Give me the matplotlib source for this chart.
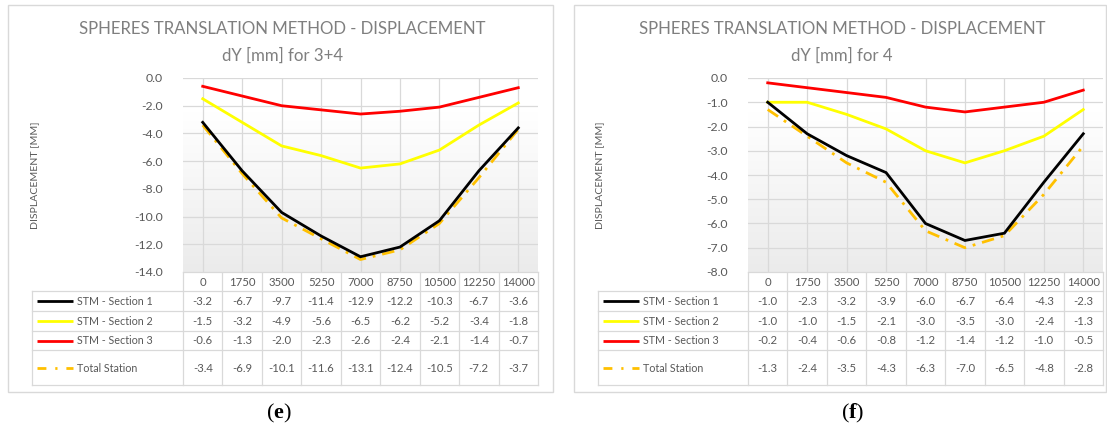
import numpy as np
import matplotlib
matplotlib.use("Agg")
import matplotlib.pyplot as plt
from matplotlib.transforms import blended_transform_factory
from matplotlib.colors import LinearSegmentedColormap

# ---------------- data ----------------
categories = ["0", "1750", "3500", "5250", "7000", "8750", "10500", "12250", "14000"]
series_names = ["STM - Section 1", "STM - Section 2", "STM - Section 3", "Total Station"]

e_sec1 = [-3.2, -6.7, -9.7, -11.4, -12.9, -12.2, -10.3, -6.7, -3.6]
e_sec2 = [-1.5, -3.2, -4.9, -5.6, -6.5, -6.2, -5.2, -3.4, -1.8]
e_sec3 = [-0.6, -1.3, -2.0, -2.3, -2.6, -2.4, -2.1, -1.4, -0.7]
e_total = [-3.4, -6.9, -10.1, -11.6, -13.1, -12.4, -10.5, -7.2, -3.7]

f_sec1 = [-1.0, -2.3, -3.2, -3.9, -6.0, -6.7, -6.4, -4.3, -2.3]
f_sec2 = [-1.0, -1.0, -1.5, -2.1, -3.0, -3.5, -3.0, -2.4, -1.3]
f_sec3 = [-0.2, -0.4, -0.6, -0.8, -1.2, -1.4, -1.2, -1.0, -0.5]
f_total = [-1.3, -2.4, -3.5, -4.3, -6.3, -7.0, -6.5, -4.8, -2.8]

title_line1 = "SPHERES TRANSLATION METHOD - DISPLACEMENT"
e_title2 = "dY [mm] for 3+4"
f_title2 = "dY [mm] for 4"
ylabel = "DISPLACEMENT [MM]"

# ---------------- style ----------------
W, H = 1107, 429
FONT = "Lato"
C_TITLE = "#7f7f7f"
C_TEXT = "#595959"
C_GRID = "#d9d9d9"
styles = [
    dict(color="#000000", lw=2.0, ls="-"),
    dict(color="#ffff00", lw=2.0, ls="-"),
    dict(color="#ff0000", lw=2.0, ls="-"),
    dict(color="#ffc000", lw=2.0, ls=(0, (4.5, 2.5, 1.0, 2.5))),
]

plt.rcParams["font.family"] = [FONT, "DejaVu Sans"]
plt.rcParams["mathtext.fontset"] = "custom"
plt.rcParams["mathtext.rm"] = "Liberation Serif"
plt.rcParams["mathtext.bf"] = "Liberation Serif:bold"

fig = plt.figure(figsize=(W / 100, H / 100), dpi=100)
fig.patch.set_facecolor("white")

ov = fig.add_axes([0, 0, 1, 1])
ov.set_xlim(0, W)
ov.set_ylim(H, 0)
ov.axis("off")
ov.patch.set_alpha(0)

renderer = fig.canvas.get_renderer()


def fit(t, target):
    w = t.get_window_extent(renderer).width
    if w > 0:
        t.set_fontsize(t.get_fontsize() * target / w)
    return t


panels = [
    dict(series=[e_sec1, e_sec2, e_sec3, e_total], title2=e_title2, ymin=-14.0, ystep=2.0,
         box=(8, 5, 553, 392), plot=(183, 78, 538, 272), tleft=32, ylab_x=35, label="e", label_x=279),
    dict(series=[f_sec1, f_sec2, f_sec3, f_total], title2=f_title2, ymin=-8.0, ystep=1.0,
         box=(574, 5, 1106, 392), plot=(748, 78, 1103, 272), tleft=598, ylab_x=600, label="f", label_x=853),
]

row_edges = [272, 291, 311, 331, 350, 385]

grad_cmap = LinearSegmentedColormap.from_list(
    "g", [(0.0, "#ffffff"), (0.18, "#ffffff"), (1.0, "#ebebeb")], N=256)

TSIZE = 8.2

for p in panels:
    x0, y0, x1, y1 = p["box"]
    ov.add_patch(plt.Rectangle((x0, y0), x1 - x0, y1 - y0, fill=False, ec=C_GRID, lw=1.0))
    cx = (x0 + x1) / 2 + 2
    t1 = ov.text(cx, 29, title_line1, ha="center", va="center", color=C_TITLE, fontsize=13)
    fit(t1, 406)
    ov.text(cx, 56, p["title2"], ha="center", va="center", color=C_TITLE, fontsize=t1.get_fontsize())

    px0, py0, px1, py1 = p["plot"]
    ax = fig.add_axes([px0 / W, 1 - py1 / H, (px1 - px0) / W, (py1 - py0) / H])
    n = len(categories)
    xs = np.arange(n)
    ax.set_xlim(-0.5, n - 0.5)
    ax.set_ylim(p["ymin"], 0)
    grad = np.linspace(0, 1, 256).reshape(-1, 1)
    ax.imshow(grad, aspect="auto", cmap=grad_cmap, extent=(-0.5, n - 0.5, p["ymin"], 0),
              origin="upper", zorder=0, interpolation="bilinear")
    yt = np.arange(0, p["ymin"] - 1e-9, -p["ystep"])
    ax.set_yticks(yt)
    ax.set_yticklabels([f"{v:.1f}" for v in yt])
    ax.set_xticks(xs)
    ax.tick_params(axis="x", bottom=False, labelbottom=False)
    ax.tick_params(axis="y", left=False, colors=C_TEXT, labelsize=8.8, pad=11)
    for lbl in ax.get_yticklabels():
        lbl.set_color(C_TEXT)
    for s in ax.spines.values():
        s.set_visible(False)
    for v in yt:
        ax.axhline(v, color=C_GRID, lw=0.9, zorder=1)
    for xv in xs:
        ax.axvline(xv, color=C_GRID, lw=0.9, zorder=1)
    for i in [3, 1, 2, 0]:
        st = styles[i]
        ax.plot(xs, p["series"][i], color=st["color"], lw=st["lw"], ls=st["ls"], zorder=3 + (i == 0),
                solid_joinstyle="miter", clip_on=False)

    yl = ov.text(p["ylab_x"], 175, ylabel, rotation=90, ha="center", va="center", color=C_TEXT, fontsize=7.5)
    fit_h = yl.get_window_extent(renderer).height
    yl.set_fontsize(yl.get_fontsize() * 107 / fit_h)

    # ---------- data table ----------
    tr = blended_transform_factory(ax.transData, ov.transData)
    tl = p["tleft"]
    ov.plot([px0, px1], [row_edges[0]] * 2, color=C_GRID, lw=0.9)
    for yv in row_edges[1:]:
        ov.plot([tl, px1], [yv] * 2, color=C_GRID, lw=0.9)
    ov.plot([tl, tl], [row_edges[1], row_edges[-1]], color=C_GRID, lw=0.9)
    for k in range(n + 1):
        ov.plot([k - 0.5, k - 0.5], [row_edges[0], row_edges[-1]], color=C_GRID, lw=0.9,
                transform=tr, clip_on=False)
    hy = (row_edges[0] + row_edges[1]) / 2
    for k, c in enumerate(categories):
        ov.text(k, hy + 0.5, c, transform=tr, ha="center", va="center", color=C_TEXT, fontsize=TSIZE)
    label_size = None
    for r, name in enumerate(series_names):
        ry = (row_edges[r + 1] + row_edges[r + 2]) / 2
        for k, v in enumerate(p["series"][r]):
            ov.text(k, ry + 0.5, f"{v:.1f}", transform=tr, ha="center", va="center", color=C_TEXT,
                    fontsize=TSIZE)
        st = styles[r]
        ov.plot([tl + 5, tl + 41], [ry, ry], color=st["color"], lw=st["lw"],
                ls=st["ls"] if r < 3 else (0, (3.2, 3.2, 0.8, 3.2)), solid_capstyle="butt",
                dash_capstyle="butt")
        lt = ov.text(tl + 45, ry + 0.5, name, ha="left", va="center", color=C_TEXT, fontsize=TSIZE)
        if r == 0:
            fit(lt, 76)
            label_size = lt.get_fontsize()
        else:
            lt.set_fontsize(label_size)

    ov.text(p["label_x"], 413, r"$\mathrm{(}\mathbf{%s}\mathrm{)}$" % p["label"], ha="center", va="center",
            fontsize=16, color="black")

fig.savefig("out.png", dpi=100, facecolor="white")
